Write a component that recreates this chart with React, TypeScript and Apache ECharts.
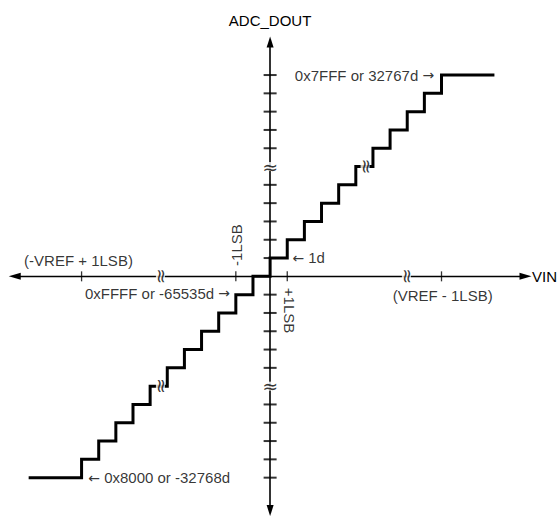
import React, { useEffect, useRef } from "react";
import * as echarts from "echarts";

// Output codes of the transfer function (one tread per code)
const codes = [-11, -10, -9, -8, -7, -6, -5, -4, -3, -2, -1, 0, 1, 2, 3, 4, 5, 6, 7, 8, 9, 10, 11];
// Input (in LSB) where each tread begins/ends
const edges = [-14, -11, -10, -9, -8, -7, -6, -5, -4, -3, -2, -1, 0, 1, 2, 3, 4, 5, 6, 7, 8, 9, 10, 13];

// Tick marks
const yTickCodes = [-11, -10, -9, -8, -7, -5, -4, -3, -2, -1, 1, 2, 3, 4, 5, 7, 8, 9, 10, 11];
const xTickValues = [-11, -2, 1, 10];

// Break (≈) marks: [x, y, rotation]
const breakMarks: [number, number, number][] = [
  [0, 6, 0],
  [0, -6, 0],
  [-6.4, 0, 90],
  [7.95, 0, 90],
  [-6.4, -6, 90],
  [5.54, 6, 90],
];

// Annotations
const annotationTexts = [
  "0x7FFF or 32767d {a|→}",
  "{a|←} 1d",
  "0xFFFF or -65535d {a|→}",
  "{a|←} 0x8000 or -32768d",
  "(-VREF + 1LSB)",
  "(VREF - 1LSB)",
  "-1LSB",
  "+1LSB",
];
const annotationX = [9.57, 1.3, -2.34, -10.61, -11.18, 10.07, -1.99, 1.16];
const annotationY = [11, 1.02, -0.93, -11, 0.87, -1.02, 1.71, -1.87];
const annotationAlign = ["right", "left", "right", "left", "center", "center", "center", "center"];
const annotationRotate = [0, 0, 0, 0, 0, 0, 90, -90];

const FONT = "'Liberation Sans', Arial, Helvetica, sans-serif";

export default function App() {
  const ref = useRef<HTMLDivElement>(null);

  useEffect(() => {
    if (!ref.current) return;
    const chart = echarts.init(ref.current, undefined, { renderer: "svg" });

    const stairs: number[][] = [];
    codes.forEach((c, i) => {
      stairs.push([edges[i], c]);
      stairs.push([edges[i + 1], c]);
    });

    const option: any = {
      animation: false,
      textStyle: { fontFamily: FONT },
      grid: { left: 14.73, right: 29.73, top: 42.1, bottom: 5.4 },
      xAxis: {
        type: "value",
        min: -14.9,
        max: 14.9,
        name: "VIN",
        nameLocation: "end",
        nameGap: 6.5,
        nameTextStyle: { color: "#000", fontSize: 15, fontFamily: FONT },
        axisLine: {
          show: true,
          onZero: true,
          symbol: ["triangle", "triangle"],
          symbolSize: [7, 12],
          lineStyle: { color: "#000", width: 1.4 },
        },
        axisTick: { show: false },
        axisLabel: { show: false },
        splitLine: { show: false },
      },
      yAxis: {
        type: "value",
        min: -12.8,
        max: 12.8,
        name: "ADC_DOUT",
        nameLocation: "end",
        nameGap: 14,
        nameTextStyle: { color: "#000", fontSize: 15, fontFamily: FONT },
        axisLine: {
          show: true,
          onZero: true,
          symbol: ["triangle", "triangle"],
          symbolSize: [7, 11],
          lineStyle: { color: "#000", width: 1.6 },
        },
        axisTick: { show: false },
        axisLabel: { show: false },
        splitLine: { show: false },
      },
      series: [
        {
          type: "scatter",
          symbol: "rect",
          symbolSize: [13, 2],
          itemStyle: { color: "#000" },
          data: yTickCodes.map((c) => [0, c]),
          silent: true,
          z: 2,
        },
        {
          type: "scatter",
          symbol: "rect",
          symbolSize: [1.3, 10],
          itemStyle: { color: "#000" },
          data: xTickValues.map((v) => [v, 0]),
          silent: true,
          z: 2,
        },
        {
          type: "line",
          data: stairs,
          showSymbol: false,
          symbol: "none",
          lineStyle: { color: "#000", width: 3, join: "miter", cap: "square" },
          silent: true,
          z: 3,
        },
        {
          type: "scatter",
          symbolSize: 1,
          itemStyle: { color: "transparent" },
          silent: true,
          clip: false,
          z: 4,
          data: annotationTexts.map((t, i) => ({
            value: [annotationX[i], annotationY[i]],
            label: {
              show: true,
              position: "inside",
              formatter: t,
              align: annotationAlign[i],
              verticalAlign: "middle",
              rotate: annotationRotate[i],
              color: "#000",
              fontSize: 15,
              fontFamily: FONT,
              rich: {
                a: { fontFamily: "'DejaVu Sans'", fontSize: 14, color: "#000" },
              },
            },
          })),
        },
        {
          type: "scatter",
          symbolSize: 1,
          itemStyle: { color: "transparent" },
          silent: true,
          clip: false,
          z: 5,
          data: breakMarks.map((b) => ({
            value: [b[0], b[1]],
            label: {
              show: true,
              position: "inside",
              formatter: "≈",
              align: "center",
              verticalAlign: "middle",
              rotate: b[2],
              color: "#000",
              fontSize: 19,
              lineHeight: 9,
              backgroundColor: "#fff",
              padding: [0, 0],
              fontFamily: "'DejaVu Sans'",
            },
          })),
        },
      ],
    };

    chart.setOption(option);
    return () => chart.dispose();
  }, []);

  return (
    <div
      ref={ref}
      style={{ position: "fixed", left: 0, top: 0, width: 560, height: 516, background: "#fff" }}
    />
  );
}
